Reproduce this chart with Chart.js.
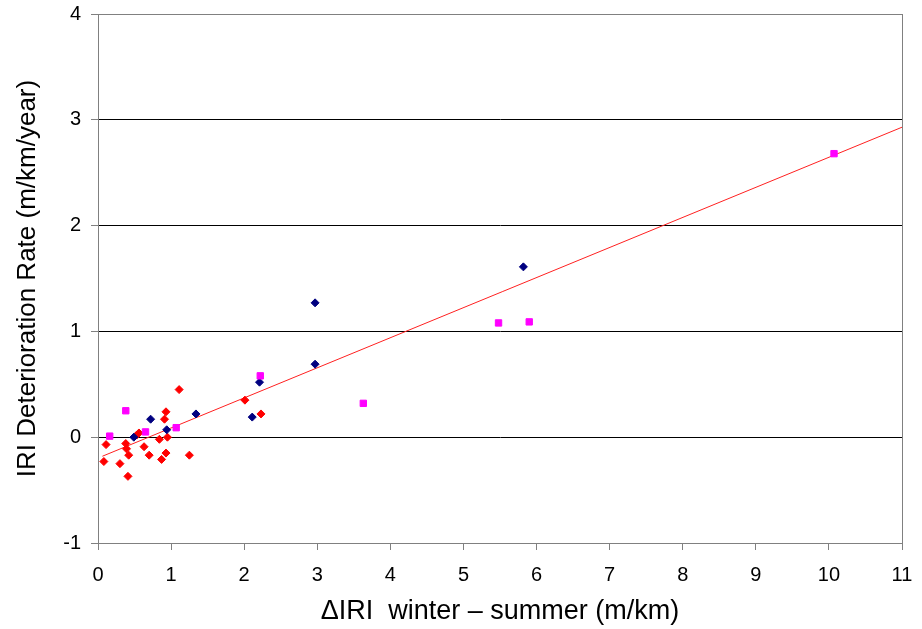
<!DOCTYPE html>
<html>
<head>
<meta charset="utf-8">
<script src="https://cdn.jsdelivr.net/npm/chart.js@4/dist/chart.umd.min.js"></script>
<style>
  html, body { margin: 0; padding: 0; background: #fff; }
  #wrap { width: 922px; height: 629px; position: relative; }
</style>
</head>
<body>
<div id="wrap"><canvas id="iriChart"></canvas></div>
<script>
// Data
const navyX = [0.49, 0.72, 0.94, 1.34, 2.11, 2.21, 2.97, 2.97, 5.82];
const navyY = [0.00, 0.17, 0.07, 0.22, 0.19, 0.52, 0.69, 1.27, 1.61];

const redX = [0.08, 0.11, 0.30, 0.38, 0.39, 0.41, 0.42, 0.53, 0.56, 0.63, 0.70, 0.84, 0.87, 0.91, 0.93, 0.93, 0.95, 1.11, 1.25, 2.01, 2.23];
const redY = [-0.23, -0.07, -0.25, -0.06, -0.11, -0.37, -0.17, 0.02, 0.04, -0.09, -0.17, -0.02, -0.21, 0.17, 0.24, -0.15, 0.00, 0.45, -0.17, 0.35, 0.22];

const pinkX = [0.16, 0.38, 0.65, 1.07, 2.22, 3.63, 5.48, 5.90, 10.07];
const pinkY = [0.01, 0.25, 0.05, 0.09, 0.58, 0.32, 1.08, 1.09, 2.68];

const trendX = [0.06, 11];
const trendY = [-0.18, 2.93];

const xTicks = [0, 1, 2, 3, 4, 5, 6, 7, 8, 9, 10, 11];
const yTicks = [-1, 0, 1, 2, 3, 4];

function pts(xs, ys) {
    return xs.map((x, i) => ({ x: x, y: ys[i] }));
}

// gray frame round the plot area
const frame = {
    id: 'frame',
    afterDraw(chart) {
        const a = chart.chartArea;
        const ctx = chart.ctx;
        ctx.save();
        ctx.strokeStyle = '#808080';
        ctx.lineWidth = 1;
        ctx.strokeRect(a.left + 0.5, a.top + 0.5, a.right - a.left, a.bottom - a.top);
        ctx.restore();
    }
};

const font = "'Liberation Sans', Arial, sans-serif";

new Chart(document.getElementById('iriChart'), {
    type: 'scatter',
    data: {
        datasets: [
            {
                label: 'trend',
                type: 'line',
                data: pts(trendX, trendY),
                borderColor: '#ff2020',
                borderWidth: 1,
                pointRadius: 0,
                fill: false,
                order: 3
            },
            {
                label: 'navy',
                data: pts(navyX, navyY),
                pointStyle: 'rectRot',
                pointRadius: 4,
                backgroundColor: '#000080',
                borderColor: '#000080',
                order: 1
            },
            {
                label: 'red',
                data: pts(redX, redY),
                pointStyle: 'rectRot',
                pointRadius: 4,
                backgroundColor: '#ff0000',
                borderColor: '#ff0000',
                order: 2
            },
            {
                label: 'pink',
                data: pts(pinkX, pinkY),
                pointStyle: 'rect',
                pointRadius: 4.5,
                backgroundColor: '#ff00ff',
                borderColor: '#ff00ff',
                order: 0
            }
        ]
    },
    options: {
        responsive: true,
        maintainAspectRatio: false,
        animation: false,
        layout: { padding: { left: 0, right: 20, top: 14, bottom: 0 } },
        plugins: { legend: { display: false }, tooltip: { enabled: false } },
        scales: {
            x: {
                type: 'linear',
                min: 0,
                max: 11,
                afterBuildTicks: s => { s.ticks = xTicks.map(v => ({ value: v })); },
                afterFit: s => { s.height = 86; s.paddingLeft = 0; s.paddingRight = 0; },
                ticks: { color: '#000', font: { family: font, size: 20 }, padding: 13 },
                grid: { drawOnChartArea: false, color: '#808080', tickLength: 7 },
                border: { color: '#808080' },
                title: {
                    display: true,
                    text: '\u0394IRI  winter \u2013 summer (m/km)',
                    color: '#000',
                    font: { family: font, size: 27 },
                    padding: { top: 4, bottom: 1 }
                }
            },
            y: {
                type: 'linear',
                min: -1,
                max: 4,
                afterBuildTicks: s => { s.ticks = yTicks.map(v => ({ value: v })); },
                afterFit: s => { s.width = 98; s.paddingTop = 0; s.paddingBottom = 0; },
                ticks: { color: '#000', font: { family: font, size: 20 }, padding: 10 },
                grid: {
                    color: ctx => (ctx.tick && ctx.tick.value === 4) ? '#808080' : '#000',
                    tickColor: '#808080',
                    tickLength: 7
                },
                border: { color: '#808080' },
                title: {
                    display: true,
                    text: 'IRI Deterioration Rate (m/km/year)',
                    color: '#000',
                    font: { family: font, size: 26 },
                    padding: { top: 12, bottom: 0 }
                }
            }
        }
    },
    plugins: [frame]
});
</script>
</body>
</html>
